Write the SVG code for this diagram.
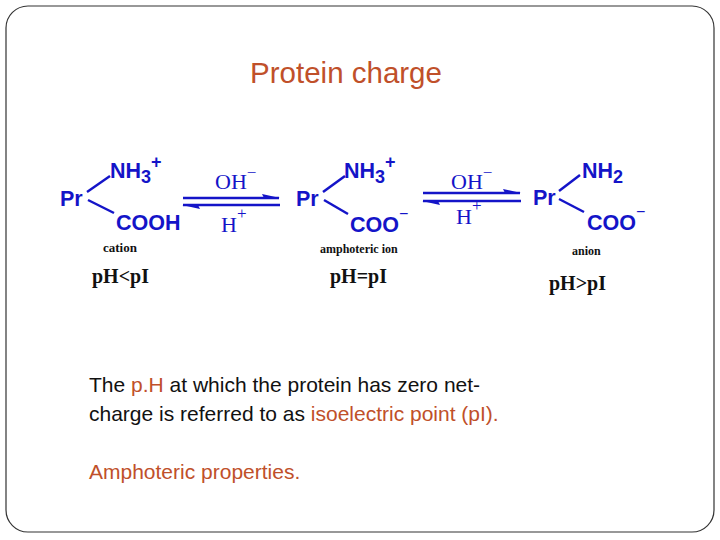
<svg xmlns="http://www.w3.org/2000/svg" width="720" height="540" viewBox="0 0 720 540">
<style>
.b{fill:#1414c8;font-family:"Liberation Sans",Arial,sans-serif;font-weight:bold;font-size:21.5px}
.s{fill:#1414c8;font-family:"Liberation Serif",serif;font-size:22px}
.k{fill:#111;font-family:"Liberation Serif",serif;font-weight:bold}
.ln{stroke:#1414c8;stroke-width:2.5;fill:none}
.t{font-family:"Liberation Sans",Arial,sans-serif;font-size:21px}
.o{fill:#c0502a}
</style>
<rect x="6" y="6" width="708" height="526" rx="22" fill="#fff" stroke="#333" stroke-width="1.2"/>
<text x="346" y="83" text-anchor="middle" class="o" style="font-family:'Liberation Sans',Arial,sans-serif;font-size:29.5px">Protein charge</text>
<g id="cation">
<text x="60" y="206" class="b">Pr</text>
<text x="110" y="178" class="b">NH<tspan font-size="18" dy="5">3</tspan><tspan dy="-15" font-size="18">+</tspan></text>
<text x="116" y="230" class="b">COOH</text>
<line x1="87" y1="192" x2="110" y2="176" class="ln"/>
<line x1="88" y1="200" x2="114" y2="213" class="ln"/>
<text x="103" y="252" class="k" font-size="13">cation</text>
<text x="92" y="283" class="k" font-size="20">pH&lt;pI</text>
</g>
<g id="amphoteric">
<text x="296" y="206" class="b">Pr</text>
<text x="344" y="178" class="b">NH<tspan font-size="18" dy="5">3</tspan><tspan dy="-15" font-size="18">+</tspan></text>
<text x="350" y="232" class="b">COO<tspan dy="-13" font-size="16" font-weight="normal">−</tspan></text>
<line x1="323" y1="192" x2="345" y2="176" class="ln"/>
<line x1="324" y1="200" x2="348" y2="214" class="ln"/>
<text x="320" y="253" class="k" font-size="12">amphoteric ion</text>
<text x="330" y="283" class="k" font-size="20">pH=pI</text>
</g>
<g id="anion">
<text x="533" y="205" class="b">Pr</text>
<text x="582" y="178" class="b">NH<tspan font-size="18" dy="5">2</tspan></text>
<text x="587" y="230" class="b">COO<tspan dy="-13" font-size="16" font-weight="normal">−</tspan></text>
<line x1="559" y1="191" x2="580" y2="175" class="ln"/>
<line x1="559" y1="199" x2="584" y2="212" class="ln"/>
<text x="572" y="255" class="k" font-size="12">anion</text>
<text x="549" y="290" class="k" font-size="20">pH&gt;pI</text>
</g>
<g id="connectors">
<line x1="183" y1="198" x2="279" y2="198" class="ln"/>
<path d="M280,198 L262,194 L264,198 Z" fill="#1414c8"/>
<line x1="183" y1="205" x2="280" y2="205" class="ln"/>
<path d="M182,205 L200,209 L198,205 Z" fill="#1414c8"/>
<text x="215" y="189" class="s">OH<tspan dy="-11" font-size="17">−</tspan></text>
<text x="221" y="232" class="s">H<tspan dy="-13" font-size="17">+</tspan></text>
<line x1="423" y1="193" x2="520" y2="193" class="ln"/>
<path d="M521,193 L503,189 L505,193 Z" fill="#1414c8"/>
<line x1="423" y1="201" x2="521" y2="201" class="ln"/>
<path d="M422,201 L440,205 L438,201 Z" fill="#1414c8"/>
<text x="451" y="189" class="s">OH<tspan dy="-11" font-size="17">−</tspan></text>
<text x="456" y="224" class="s">H<tspan dy="-13" font-size="17">+</tspan></text>
</g>
<text x="89" y="392" class="t" fill="#111">The <tspan class="o">p.H</tspan> at which the protein has zero net-</text>
<text x="89" y="421" class="t" fill="#111">charge is referred to as <tspan class="o">isoelectric point (pI).</tspan></text>
<text x="89" y="479" class="t o">Amphoteric properties.</text>
</svg>
